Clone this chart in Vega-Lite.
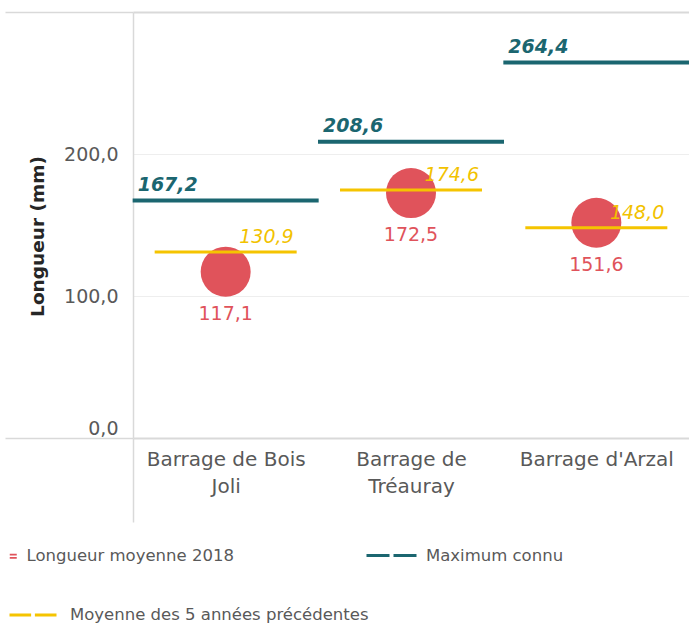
{
  "$schema": "https://vega.github.io/schema/vega-lite/v6.json",
  "width": 556,
  "height": 426,
  "autosize": {"type": "none"},
  "padding": {"left": 133, "top": 12, "right": 0, "bottom": 187},
  "background": "white",
  "config": {
    "locale": {"number": {"decimal": ",", "thousands": " ", "grouping": [3], "currency": ["", " €"]}},
    "view": {"stroke": null},
    "font": "DejaVu Sans"
  },
  "data": {
    "values": [
      {"barrage": "Barrage de Bois Joli", "serie": "Longueur moyenne  2018", "valeur": 117.1},
      {"barrage": "Barrage de Tréauray", "serie": "Longueur moyenne  2018", "valeur": 172.5},
      {"barrage": "Barrage d'Arzal", "serie": "Longueur moyenne  2018", "valeur": 151.6},
      {"barrage": "Barrage de Bois Joli", "serie": "Maximum connu", "valeur": 167.2},
      {"barrage": "Barrage de Tréauray", "serie": "Maximum connu", "valeur": 208.6},
      {"barrage": "Barrage d'Arzal", "serie": "Maximum connu", "valeur": 264.4},
      {"barrage": "Barrage de Bois Joli", "serie": "Moyenne des 5 années précédentes", "valeur": 130.9},
      {"barrage": "Barrage de Tréauray", "serie": "Moyenne des 5 années précédentes", "valeur": 174.6},
      {"barrage": "Barrage d'Arzal", "serie": "Moyenne des 5 années précédentes", "valeur": 148.0}
    ]
  },
  "encoding": {
    "x": {
      "field": "barrage",
      "type": "nominal",
      "sort": null,
      "title": null,
      "scale": {"paddingInner": 0, "paddingOuter": 0},
      "axis": {
        "domain": false,
        "tickBand": "extent",
        "ticks": true,
        "tickSize": 84,
        "tickWidth": 1.5,
        "tickColor": {"condition": {"test": "indexof(['Barrage de Bois Joli', 'Barrage de Tréauray', \"Barrage d'Arzal\"], datum.value) < 0", "value": "#d9d9d9"}, "value": "transparent"},
        "labelExpr": "datum.value === 'Barrage de Bois Joli' ? ['Barrage de Bois', 'Joli'] : (datum.value === 'Barrage de Tréauray' ? ['Barrage de', 'Tréauray'] : datum.value)",
        "labelFont": "DejaVu Sans",
        "labelFontSize": 20,
        "labelColor": "#595959",
        "labelPadding": -73,
        "labelLineHeight": 27,
        "labelBaseline": "top",
        "labelAngle": 0,
        "labelLimit": 0,
        "labelOverlap": false,
        "labelBound": false
      }
    },
    "y": {
      "field": "valeur",
      "type": "quantitative",
      "title": "Longueur (mm)",
      "scale": {"domain": [0, 300], "nice": false},
      "axis": {
        "values": [0, 100, 200, 300],
        "format": ".1f",
        "labelExpr": "datum.value === 300 ? '' : datum.label",
        "labelFont": "DejaVu Sans",
        "labelFontSize": 19,
        "labelColor": "#595959",
        "labelPadding": -113,
        "labelBaseline": {"condition": {"test": "datum.value === 0", "value": "bottom"}, "value": "middle"},
        "ticks": true,
        "tickSize": 128,
        "tickWidth": 1.5,
        "tickColor": {"condition": {"test": "datum.value === 0 || datum.value === 300", "value": "#d9d9d9"}, "value": "transparent"},
        "grid": true,
        "gridColor": {"condition": {"test": "datum.value === 0 || datum.value === 300", "value": "#d9d9d9"}, "value": "#eeeeee"},
        "gridWidth": {"condition": {"test": "datum.value === 0 || datum.value === 300", "value": 2}, "value": 1},
        "domain": true,
        "domainColor": "#d9d9d9",
        "domainWidth": 1.5,
        "titleX": -96,
        "titleY": 224,
        "titleAngle": -90,
        "titleBaseline": "middle",
        "titleAlign": "center",
        "titleFont": "DejaVu Sans",
        "titleFontSize": 18.5,
        "titleFontWeight": "bold",
        "titleColor": "#262626"
      }
    }
  },
  "layer": [
    {
      "transform": [{"filter": "datum.serie === 'Longueur moyenne  2018'"}],
      "mark": {"type": "point", "shape": "circle", "filled": true, "size": 2500, "color": "#e0535b", "opacity": 1}
    },
    {
      "transform": [{"filter": "datum.serie === 'Moyenne des 5 années précédentes'"}],
      "mark": {"type": "tick", "color": "#f5c400", "thickness": 3, "size": 142, "opacity": 1}
    },
    {
      "transform": [{"filter": "datum.serie === 'Maximum connu'"}],
      "mark": {"type": "tick", "color": "#1b6670", "thickness": 4, "size": 186, "opacity": 1}
    },
    {
      "transform": [{"filter": "datum.serie === 'Maximum connu'"}],
      "mark": {"type": "text", "align": "left", "baseline": "alphabetic", "dx": -88, "dy": -10, "font": "DejaVu Sans", "fontSize": 19, "fontWeight": "bold", "fontStyle": "italic", "color": "#1b6670"},
      "encoding": {"text": {"field": "valeur", "type": "quantitative", "format": ".1f"}}
    },
    {
      "transform": [{"filter": "datum.serie === 'Moyenne des 5 années précédentes'"}],
      "mark": {"type": "text", "align": "right", "baseline": "alphabetic", "dx": 68, "dy": -9, "font": "DejaVu Sans", "fontSize": 19, "fontStyle": "italic", "color": "#f2c200"},
      "encoding": {"text": {"field": "valeur", "type": "quantitative", "format": ".1f"}}
    },
    {
      "transform": [{"filter": "datum.serie === 'Longueur moyenne  2018'"}],
      "mark": {"type": "text", "align": "center", "baseline": "middle", "dy": 42, "font": "DejaVu Sans", "fontSize": 19, "color": "#e0535b"},
      "encoding": {"text": {"field": "valeur", "type": "quantitative", "format": ".1f"}}
    },
    {
      "transform": [{"filter": "datum.serie === 'Longueur moyenne  2018'"}],
      "mark": {"type": "point", "filled": true, "opacity": 0},
      "encoding": {
        "fill": {
          "field": "serie",
          "type": "nominal",
          "scale": {"range": ["#e0535b"]},
          "legend": {
            "title": null,
            "orient": "none",
            "legendX": -128,
            "legendY": 536,
            "labelFont": "DejaVu Sans",
            "labelFontSize": 16.5,
            "labelColor": "#595959",
            "labelOffset": 5,
            "labelLimit": 0,
            "symbolType": "M-1,-0.45H1M-1,0.45H1",
            "symbolSize": 49,
            "symbolStrokeWidth": 1.8,
            "symbolStrokeColor": "#e0535b",
            "symbolOpacity": 1
          }
        }
      }
    },
    {
      "transform": [{"filter": "datum.serie === 'Maximum connu'"}],
      "mark": {"type": "point", "filled": false, "opacity": 0},
      "encoding": {
        "stroke": {
          "field": "serie",
          "type": "nominal",
          "scale": {"range": ["#1b6670"]},
          "legend": {
            "title": null,
            "orient": "none",
            "legendX": 232,
            "legendY": 517,
            "labelFont": "DejaVu Sans",
            "labelFontSize": 16.5,
            "labelColor": "#595959",
            "labelOffset": 8,
            "labelLimit": 0,
            "symbolType": "M-1,0H-0.08M0.08,0H1",
            "symbolSize": 2500,
            "symbolStrokeWidth": 3,
            "symbolFillColor": "transparent",
            "symbolOpacity": 1
          }
        }
      }
    },
    {
      "transform": [{"filter": "datum.serie === 'Moyenne des 5 années précédentes'"}],
      "mark": {"type": "point", "filled": false, "opacity": 0},
      "encoding": {
        "shape": {
          "field": "serie",
          "type": "nominal",
          "scale": {"range": ["M-1,0H-0.08M0.08,0H1"]},
          "legend": {
            "title": null,
            "orient": "none",
            "legendX": -125,
            "legendY": 578,
            "labelFont": "DejaVu Sans",
            "labelFontSize": 16.5,
            "labelColor": "#595959",
            "labelOffset": 12,
            "labelLimit": 0,
            "symbolSize": 2209,
            "symbolStrokeWidth": 3,
            "symbolStrokeColor": "#f5c400",
            "symbolFillColor": "transparent",
            "symbolOpacity": 1
          }
        }
      }
    }
  ]
}
